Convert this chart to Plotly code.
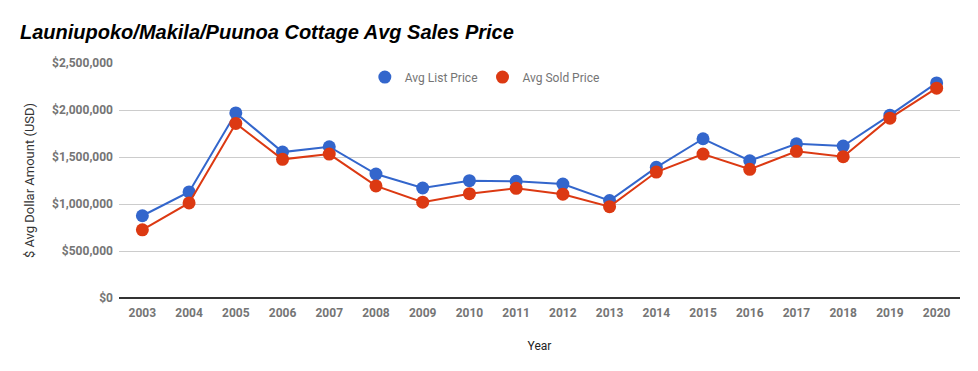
import plotly.graph_objects as go

years = ["2003", "2004", "2005", "2006", "2007", "2008", "2009", "2010", "2011",
         "2012", "2013", "2014", "2015", "2016", "2017", "2018", "2019", "2020"]
avg_list_price = [875000, 1128000, 1969000, 1552000, 1609000, 1319000, 1170000, 1248000, 1242000,
                  1213000, 1036000, 1390000, 1694000, 1460000, 1641000, 1616000, 1945000, 2288000]
avg_sold_price = [725000, 1011000, 1857000, 1475000, 1531000, 1192000, 1019000, 1110000, 1167000,
                  1104000, 972000, 1340000, 1531000, 1369000, 1560000, 1503000, 1913000, 2232000]

BLUE = "#3366CC"
RED = "#DC3912"
GREY = "#757575"

fig = go.Figure()
for name, vals, col in [("Avg List Price", avg_list_price, BLUE),
                        ("Avg Sold Price", avg_sold_price, RED)]:
    fig.add_trace(go.Scatter(x=years, y=vals, mode="lines+markers", name=name,
                             line=dict(color=col, width=2),
                             marker=dict(color=col, size=13),
                             showlegend=False))
for name, col in [("Avg List Price", BLUE), ("Avg Sold Price", RED)]:
    fig.add_trace(go.Scatter(x=[None], y=[None], mode="markers", name=name,
                             marker=dict(color=col, size=13), showlegend=True))

fig.update_layout(
    width=978, height=371,
    margin=dict(l=111, r=26, t=55, b=81),
    paper_bgcolor="white", plot_bgcolor="white",
    title=dict(text="Launiupoko/Makila/Puunoa Cottage Avg Sales Price",
               x=12 / 978, xanchor="left", xref="container", y=1 - 24 / 371, yanchor="middle",
               font=dict(family="Liberation Sans, Arial", size=20, color="#000000",
                         weight="bold", style="italic")),
    legend=dict(orientation="h", x=0.435, y=0.94, xanchor="center", yanchor="middle",
                font=dict(family="Roboto", size=12, color=GREY),
                bgcolor="rgba(0,0,0,0)", itemwidth=30),
    showlegend=True,
)

fig.update_xaxes(
    type="category", range=[-0.5, 17.5],
    showgrid=False, showline=False, zeroline=False,
    ticks="", ticklabelstandoff=6,
    tickfont=dict(family="Roboto", size=12, color=GREY, weight="bold"),
    title=dict(text="Year", font=dict(family="Roboto", size=12, color="#222222"), standoff=22),
)
fig.update_yaxes(
    range=[0, 2500000], dtick=500000, tickformat="$,.0f",
    showgrid=True, gridcolor="#CCCCCC", gridwidth=1,
    zeroline=True, zerolinecolor="#333333", zerolinewidth=1.5,
    showline=False, ticks="", ticklabelstandoff=5,
    tickfont=dict(family="Roboto", size=12, color=GREY, weight="bold"),
    title=dict(text="$ Avg Dollar Amount (USD)",
               font=dict(family="Roboto", size=13, color="#333333"), standoff=14),
)

fig.write_html("out.html")
